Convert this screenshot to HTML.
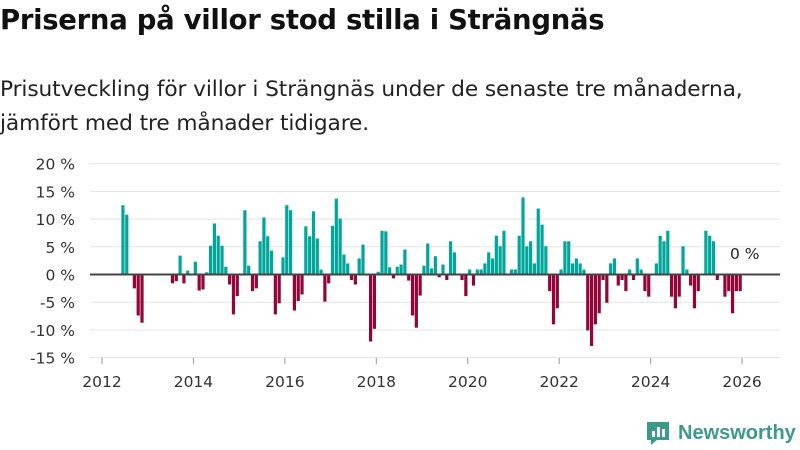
<!DOCTYPE html>
<html><head><meta charset="utf-8">
<style>
body{margin:0;width:800px;height:450px;background:#fff;font-family:"DejaVu Sans","Liberation Sans",sans-serif;overflow:hidden;position:relative}
h1{position:absolute;left:0;top:4px;margin:0;font-size:27.5px;font-weight:bold;color:#111;letter-spacing:-0.3px;white-space:nowrap}
.sub{position:absolute;left:0;top:73px;margin:0;font-size:21.7px;line-height:34px;color:#222;white-space:nowrap;letter-spacing:-0.1px}
svg{position:absolute;left:0;top:0}
</style></head><body>
<h1>Priserna på villor stod stilla i Strängnäs</h1>
<p class="sub">Prisutveckling för villor i Strängnäs under de senaste tre månaderna,<br>jämfört med tre månader tidigare.</p>
<svg id="chart" width="800" height="450"></svg>
<div style="position:absolute;left:645px;top:420px;display:flex;align-items:center;gap:7px">
<svg width="26" height="26" style="position:static"><path d="M2 2h22v18h-12l-6 5v-5h-4z" fill="#3d9a8b"/><rect x="7" y="11" width="3" height="6" fill="#fff"/><rect x="12" y="7" width="3" height="10" fill="#fff"/><rect x="17" y="9" width="3" height="8" fill="#fff"/></svg>
<span style="font-size:20px;color:#3d9a8b;font-weight:bold;font-family:'Liberation Sans',sans-serif">Newsworthy</span></div>
<script>
const startYear = 2012, startMonth = 5; // June 2012
const values = [12.5,10.8,0,-2.5,-7.4,-8.7,0,0,0,0,0,0,0,-1.6,-1.2,3.4,-1.6,0.7,0,2.3,-2.9,-2.7,0.4,5.2,9.2,7.0,5.2,1.4,-1.8,-7.2,-3.9,0,11.6,1.6,-3.0,-2.5,6.0,10.3,
6.9,4.3,-7.2,-5.2,3.1,12.5,11.6,-6.5,-4.8,-3.6,8.7,6.9,11.4,6.5,0.9,-4.9,-1.6,8.8,13.7,10.1,3.6,2.0,-1.0,-1.8,2.9,5.4,0,-12.1,-9.8,0.5,7.9,7.8,1.3,-0.7,1.4,1.8,4.5,-1.1,-7.4,-9.6,-3.8,1.6,5.6,
1.1,3.3,-0.5,1.8,-1.0,6.0,4.0,0,-1.0,-3.9,0.9,-2.0,0.9,0.9,2.0,4.0,2.9,7.0,5.1,7.9,0,0.9,0.9,7.0,13.9,5.1,6.0,2.0,11.9,9.0,5.1,-3.0,-9.0,-6.1,0.9,6.0,6.0,2.0,2.9,2.0,0.9,-10.1,-12.9,
-9.0,-7.0,-1.0,-5.1,2.0,2.9,-2.0,-1.0,-3.0,0.9,-1.0,2.9,0.9,-3.0,-4.0,0,2.0,7.0,6.0,7.9,-4.0,-6.1,-4.0,5.1,0.9,-2.0,-6.1,-3.0,0,7.9,7.0,6.0,-1.0,0,-4.0,-3.0,-7.0,-3.0,-3.0];
const yTicks = [20,15,10,5,0,-5,-10,-15];
const xTicks = [2012,2014,2016,2018,2020,2022,2024,2026];
const NS="http://www.w3.org/2000/svg", svg=document.getElementById('chart');
const x0=102, perYear=45.72, y0=274.5, perPct=5.54;
const xs=t=>x0+(t-2012)*perYear;
const ys=v=>y0-v*perPct;
function mk(tag,attrs){const e=document.createElementNS(NS,tag);for(const k in attrs)e.setAttribute(k,attrs[k]);svg.appendChild(e);return e;}
yTicks.forEach(v=>{
  const g=mk('line',{x1:90,x2:780,y1:ys(v),y2:ys(v),stroke:'#e3e3e3','stroke-width':1});
  
  
  const t=mk('text',{x:75,y:ys(v)+6,'text-anchor':'end','font-size':15.5,fill:'#333','font-family':'DejaVu Sans, sans-serif'});
  t.textContent=v+' %';
  
  
});
xTicks.forEach(yr=>{
  const tk=mk('line',{x1:xs(yr),x2:xs(yr),y1:358,y2:364,stroke:'#999'});
  
  
  const t=mk('text',{x:xs(yr),y:387,'text-anchor':'middle','font-size':15.5,fill:'#333','font-family':'DejaVu Sans, sans-serif'});
  t.textContent=yr;
  
  
});
values.forEach((v,i)=>{
  if(!v) return;
  const t=startYear+(startMonth+i+0.5)/12;
  const cx=xs(t), w=3.2;
  const r=mk('rect',{x:cx-w/2,y:Math.min(ys(v),y0),width:w,height:Math.abs(ys(v)-y0),fill:v>0?'#00a69a':'#930538'});
  
  
});
const z=mk('line',{x1:90,x2:780,y1:y0,y2:y0,stroke:'#444','stroke-width':2});


const lab=mk('text',{x:730,y:259,'font-size':15.5,fill:'#222','font-family':'DejaVu Sans, sans-serif'});
lab.textContent='0 %';


</script>
</body></html>
